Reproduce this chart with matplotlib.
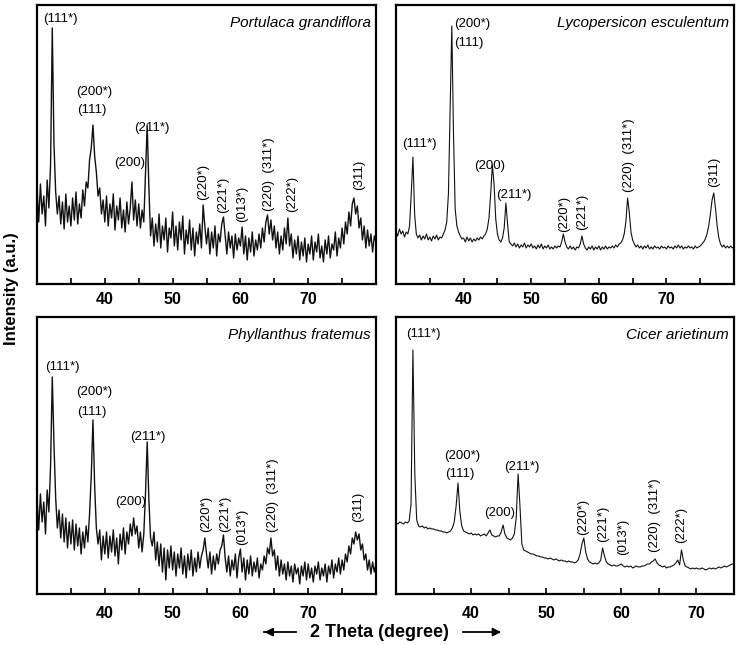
import matplotlib.pyplot as plt
import numpy as np

plt.rcParams['font.family'] = ['Liberation Sans', 'DejaVu Sans']

step = 0.25  # 2θ step of the read-off traces

# intensity traces (a.u. = pixel height above the frame), read every 0.25 deg from 30
portulaca = [
    95, 62, 100, 70, 88, 58, 104, 76, 120, 256, 140, 92, 70, 88, 60, 82, 55, 90, 62, 78,
    58, 86, 64, 92, 60, 80, 66, 94, 78, 102, 96, 124, 136, 159, 128, 112, 88, 96, 70, 84,
    62, 88, 58, 80, 66, 90, 54, 78, 64, 86, 56, 74, 52, 82, 60, 76, 102, 64, 84, 58,
    80, 56, 74, 62, 110, 159, 96, 48, 66, 38, 60, 42, 70, 36, 58, 44, 66, 32, 56, 46,
    72, 38, 58, 34, 62, 44, 68, 30, 54, 40, 64, 34, 56, 28, 52, 40, 60, 36, 79, 58,
    40, 56, 30, 52, 36, 58, 28, 50, 42, 60, 67, 48, 30, 52, 36, 48, 26, 50, 34, 46,
    38, 57, 30, 48, 24, 46, 32, 52, 28, 44, 34, 50, 36, 56, 42, 62, 69, 50, 64, 44,
    58, 36, 52, 30, 48, 34, 56, 40, 66, 38, 50, 26, 44, 30, 48, 24, 42, 28, 46, 22,
    40, 30, 48, 24, 42, 32, 50, 26, 38, 22, 44, 30, 48, 26, 40, 34, 52, 28, 46, 36,
    56, 40, 62, 50, 72, 58, 80, 86, 70, 78, 56, 66, 44, 58, 36, 54, 38, 50, 32, 48,
    42]

lycopersicon = [
    52, 48, 55, 50, 53, 47, 52, 50, 58, 90, 127, 70, 50, 46, 49, 44, 48, 45, 50, 44,
    47, 43, 48, 45, 49, 44, 47, 46, 50, 54, 62, 90, 175, 258, 150, 75, 58, 52, 48, 45,
    46, 42, 47, 43, 46, 42, 45, 43, 46, 44, 47, 45, 48, 50, 55, 66, 90, 119, 100, 65,
    50, 44, 42, 46, 56, 81, 60, 42, 40, 38, 41, 37, 40, 36, 39, 37, 41, 36, 39, 37,
    40, 36, 38, 35, 39, 36, 40, 35, 38, 36, 39, 35, 37, 35, 38, 36, 38, 37, 42, 50,
    42, 37, 35, 38, 35, 37, 34, 37, 36, 40, 48, 40, 36, 34, 37, 35, 38, 34, 37, 35,
    38, 34, 37, 35, 38, 35, 37, 36, 38, 36, 39, 37, 40, 41, 44, 50, 62, 86, 72, 52,
    44, 40, 37, 39, 36, 38, 35, 38, 36, 39, 35, 37, 35, 38, 36, 37, 35, 38, 36, 37,
    35, 38, 36, 37, 35, 38, 36, 39, 36, 38, 35, 37, 36, 38, 36, 37, 35, 38, 36, 37,
    38, 40, 42, 45, 50, 58, 70, 84, 91, 76, 58, 46, 40, 37, 39, 36, 38, 36, 38, 36,
    37]

phyllanthus = [
    96, 64, 100, 72, 92, 60, 104, 82, 128, 217, 150, 96, 66, 84, 56, 80, 52, 76, 46, 72,
    50, 74, 44, 70, 48, 66, 40, 62, 46, 68, 52, 80, 118, 174, 108, 66, 50, 64, 34, 58,
    40, 62, 36, 58, 42, 64, 38, 56, 30, 60, 44, 66, 40, 62, 50, 70, 58, 76, 60, 68,
    46, 62, 42, 60, 100, 152, 94, 56, 48, 62, 34, 52, 28, 50, 22, 46, 14, 44, 26, 48,
    24, 42, 18, 40, 26, 46, 20, 38, 16, 40, 24, 44, 18, 36, 22, 42, 26, 38, 44, 56,
    40, 26, 42, 20, 38, 24, 40, 30, 44, 48, 59, 36, 22, 38, 18, 34, 24, 40, 16, 36,
    45, 22, 36, 14, 34, 20, 38, 18, 32, 22, 36, 16, 30, 24, 38, 30, 46, 40, 56, 38,
    44, 24, 38, 18, 34, 20, 30, 14, 32, 18, 28, 12, 30, 20, 26, 10, 28, 18, 32, 14,
    30, 16, 26, 12, 28, 20, 32, 14, 26, 18, 30, 12, 28, 20, 34, 16, 30, 22, 36, 20,
    34, 24, 40, 32, 48, 40, 56, 50, 62, 54, 60, 44, 50, 34, 40, 24, 34, 20, 32, 22,
    30]

cicer = [
    71, 70, 72, 71, 70, 72, 71, 73, 90, 244, 120, 74, 68, 67, 68, 66, 67, 65, 66, 65,
    65, 64, 64, 63, 63, 62, 62, 61, 62, 63, 66, 72, 88, 111, 82, 68, 63, 62, 61, 60,
    61, 59, 60, 59, 60, 58, 59, 60, 58, 61, 64, 59, 58, 57, 58, 58, 62, 69, 60, 56,
    55, 54, 56, 60, 76, 120, 88, 50, 44, 43, 42, 41, 40, 40, 39, 38, 38, 37, 37, 36,
    36, 35, 36, 35, 34, 35, 34, 33, 34, 33, 33, 32, 33, 32, 32, 31, 32, 34, 40, 50,
    56, 42, 35, 32, 31, 30, 31, 30, 31, 34, 46, 38, 32, 30, 29, 28, 29, 28, 28, 29,
    30, 28, 27, 28, 27, 28, 26, 27, 28, 27, 27, 28, 28, 29, 30, 30, 32, 33, 35, 31,
    29, 28, 27, 28, 26, 27, 27, 28, 29, 31, 34, 29, 44, 34, 28, 27, 26, 25, 26, 25,
    26, 25, 25, 26, 25, 24, 25, 26, 25, 26, 25, 26, 27, 26, 27, 28, 27, 28, 29, 30,
    30]

titles = ['Portulaca grandiflora', 'Lycopersicon esculentum',
          'Phyllanthus fratemus', 'Cicer arietinum']
x_ends = [80, 80, 80, 75]
y_tops = [279, 279, 277, 277]

# horizontal peak labels: (text, 2θ, height, alignment)
flat_labels = [
    [('(111*)', 33.4, 265, 'center'), ('(200*)', 38.5, 192, 'center'), ('(111)', 38.1, 174, 'center'),
     ('(200)', 43.7, 121, 'center'), ('(211*)', 47.0, 156, 'center')],
    [('(111*)', 33.5, 140, 'center'), ('(200*)', 38.6, 260, 'left'), ('(111)', 38.6, 241, 'left'),
     ('(200)', 43.9, 118, 'center'), ('(211*)', 47.4, 89, 'center')],
    [('(111*)', 33.8, 227, 'center'), ('(200*)', 38.4, 202, 'center'), ('(111)', 38.1, 182, 'center'),
     ('(200)', 43.8, 92, 'center'), ('(211*)', 46.3, 157, 'center')],
    [('(111*)', 33.7, 260, 'center'), ('(200*)', 38.8, 138, 'center'), ('(111)', 38.5, 120, 'center'),
     ('(200)', 43.8, 81, 'center'), ('(211*)', 46.8, 127, 'center')],
]
# vertical peak labels: (text, 2θ, height of lower end)
upright_labels = [
    [('(220*)', 54.5, 84), ('(221*)', 57.4, 71), ('(013*)', 60.2, 62),
     ('(220)  (311*)', 64.2, 73), ('(222*)', 67.6, 72), ('(311)', 77.5, 94)],
    [('(220*)', 54.8, 52), ('(221*)', 57.6, 54), ('(220)  (311*)', 64.4, 92), ('(311)', 77.1, 97)],
    [('(220*)', 55.0, 62), ('(221*)', 57.7, 62), ('(013*)', 60.3, 49),
     ('(220)  (311*)', 64.8, 62), ('(311)', 77.3, 72)],
    [('(220*)', 54.9, 59), ('(221*)', 57.6, 52), ('(013*)', 60.2, 39),
     ('(220)  (311*)', 64.5, 42), ('(222*)', 67.9, 51)],
]

traces = [portulaca, lycopersicon, phyllanthus, cicer]
boxes = [[0.0501, 0.5597, 0.4587, 0.4326], [0.5359, 0.5597, 0.4574, 0.4326],
         [0.0501, 0.0791, 0.4587, 0.4295], [0.5359, 0.0791, 0.4574, 0.4295]]
widths = [1.0, 0.8, 1.0, 0.8]

fig = plt.figure(figsize=(7.39, 6.45), dpi=100)

for i in range(4):
    ax = fig.add_axes(boxes[i])
    y = traces[i]
    x = 30 + step * np.arange(len(y))
    ax.plot(x, y, color='#111111', linewidth=widths[i])
    ax.set_xlim(30, x_ends[i])
    ax.set_ylim(0, y_tops[i])
    ax.set_yticks([])
    ax.set_xticks([40, 50, 60, 70])
    ax.set_xticks(np.arange(35, x_ends[i], 10), minor=True)
    ax.tick_params(axis='x', which='both', direction='in', length=4, width=1.2,
                   pad=6 if i < 2 else 9, labelsize=11.5)
    for lab in ax.get_xticklabels():
        lab.set_fontweight('bold')
    for s in ax.spines.values():
        s.set_linewidth(1.6)
    ax.text(0.985, 0.935, titles[i], transform=ax.transAxes, ha='right', va='center',
            fontsize=11, style='italic')
    for txt, xx, yy, ha in flat_labels[i]:
        ax.text(xx, yy, txt, ha=ha, va='center', fontsize=9.5)
    for txt, xx, yy in upright_labels[i]:
        ax.text(xx, yy, txt, ha='center', va='bottom', rotation=90, fontsize=9.5)

# shared axis titles
fig.text(0.016, 0.553, 'Intensity (a.u.)', rotation=90, ha='center', va='center',
         fontsize=12, fontweight='bold')
fig.text(0.513, 0.020, '2 Theta (degree)', ha='center', va='center',
         fontsize=13, fontweight='bold')
fig.add_artist(plt.Line2D([0.357, 0.400], [0.020, 0.020], color='black', lw=1.3))
fig.add_artist(plt.Line2D([0.627, 0.672], [0.020, 0.020], color='black', lw=1.3))
plt.annotate('', xy=(0.354, 0.020), xytext=(0.372, 0.020), xycoords='figure fraction',
             arrowprops=dict(arrowstyle='-|>', color='black', lw=1.3, mutation_scale=12))
plt.annotate('', xy=(0.682, 0.020), xytext=(0.664, 0.020), xycoords='figure fraction',
             arrowprops=dict(arrowstyle='-|>', color='black', lw=1.3, mutation_scale=12))

plt.savefig('out.png', dpi=100)
